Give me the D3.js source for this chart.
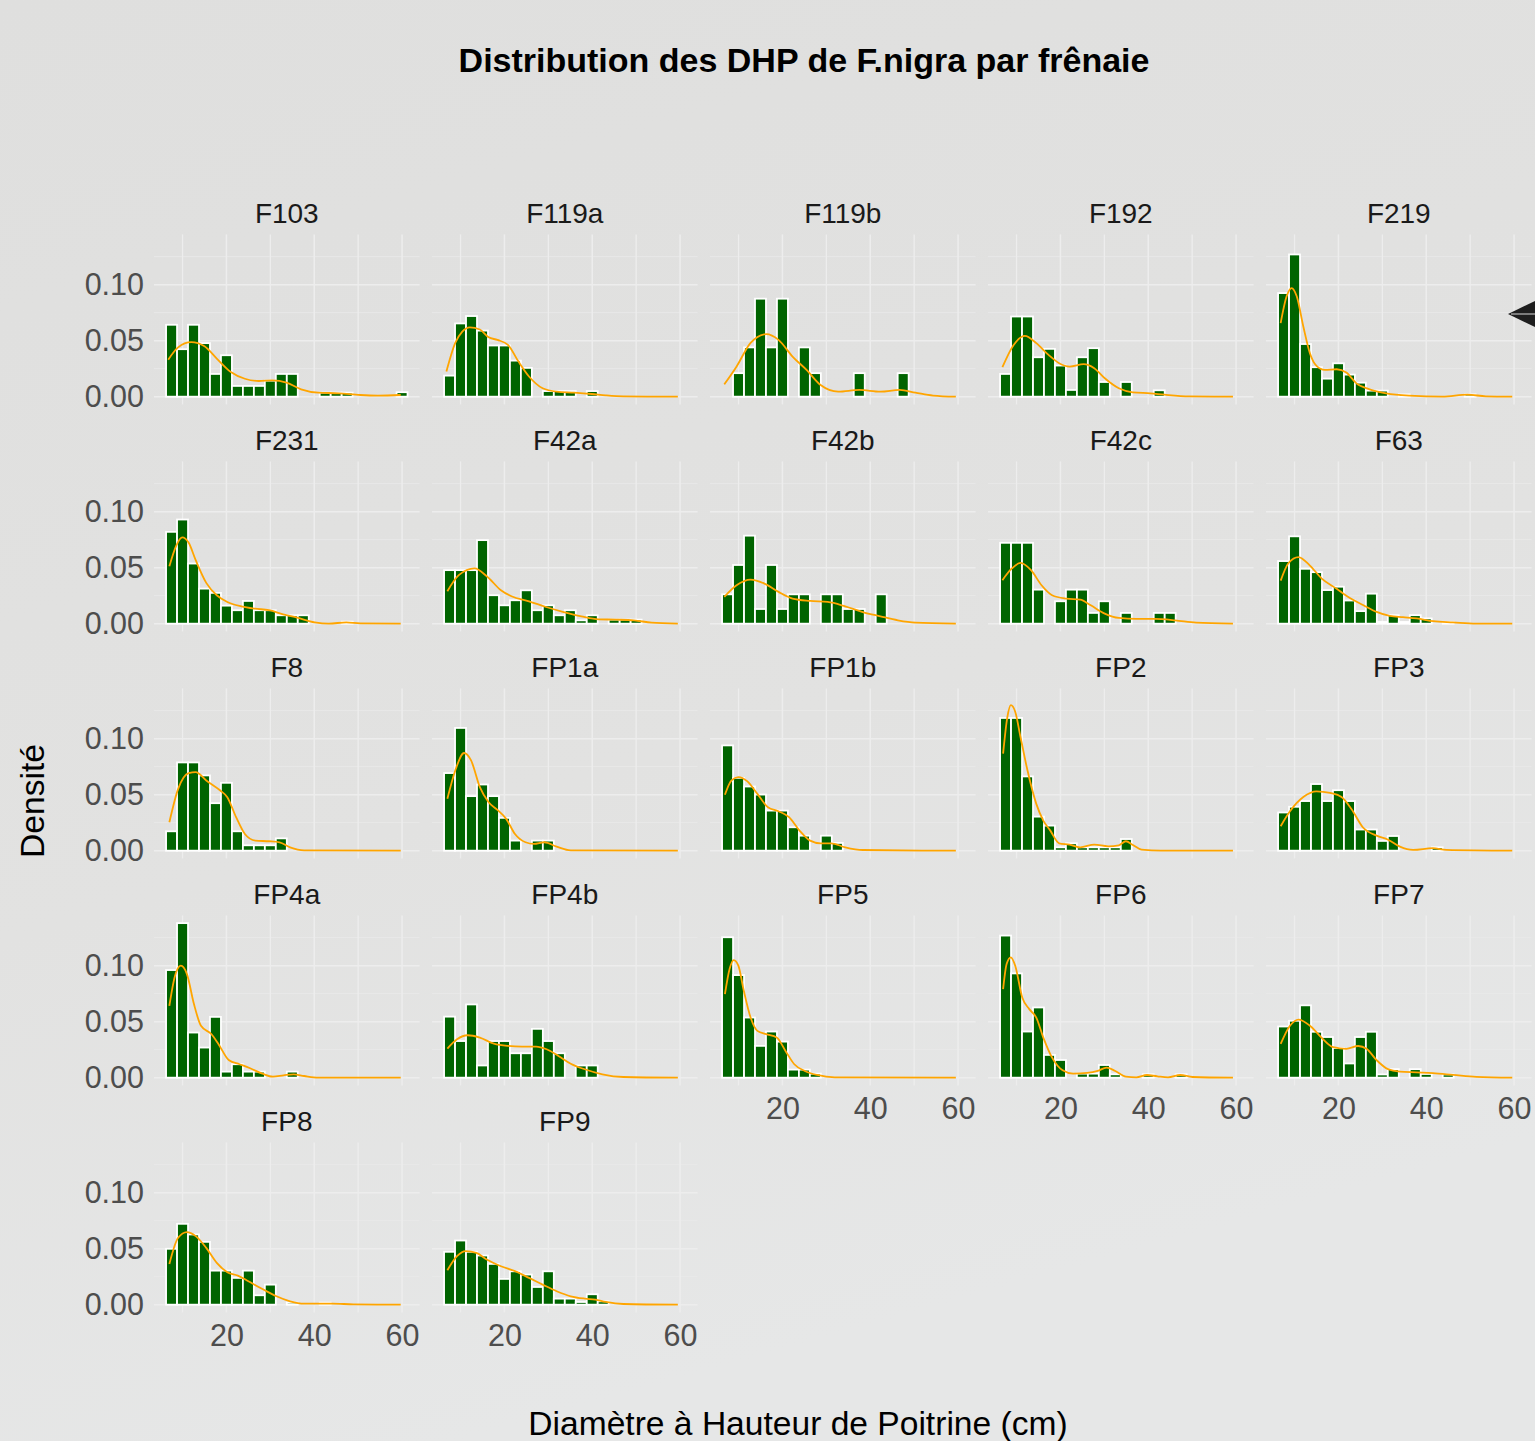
<!DOCTYPE html>
<html><head><meta charset="utf-8">
<script src="https://cdn.jsdelivr.net/npm/d3@7"></script>
<style>
body{margin:0;background:#e2e2e1;}
svg{display:block;}
text{font-family:"Liberation Sans",Arial,Helvetica,sans-serif;}
</style>
</head><body>
<svg id="chart" width="1535" height="1441"></svg>
<script>
// ---------------- DATA ----------------
const panels = ["F103","F119a","F119b","F192","F219","F231","F42a","F42b","F42c","F63",
  "F8","FP1a","FP1b","FP2","FP3","FP4a","FP4b","FP5","FP6","FP7","FP8","FP9"];
const binCenters = [7.5,10,12.5,15,17.5,20,22.5,25,27.5,30,32.5,35,37.5,40,42.5,45,47.5,50,52.5,55,57.5,60];
const binWidth = 2.5;
const xTicks = [20,40,60];
const xMinor = [10,30,50];
const yTicks = [0,0.05,0.10];
const yTickLabels = ["0.00","0.05","0.10"];
const yMinor = [0.025,0.075,0.125];
const titleText = "Distribution des DHP de F.nigra par frênaie";
const xTitle = "Diamètre à Hauteur de Poitrine (cm)";
const yTitle = "Densité";

// histogram densities per bin (one value per bin centre)
const histF103  = [0.0642,0.0424,0.0642,0.0478,0.0203,0.037,0.0096,0.0096,0.0096,0.0143,0.0203,0.0203,0,0,0.0036,0.0036,0.0036,0,0,0,0,0.004];
const histF119a = [0.0188,0.0654,0.072,0.059,0.0457,0.0457,0.0322,0.0257,0,0.005,0.005,0.005,0,0.005,0,0,0,0,0,0,0,0];
const histF119b = [0,0.021,0.044,0.0875,0.044,0.0875,0,0.044,0.021,0,0,0,0.021,0,0,0,0.021,0,0,0,0,0];
const histF192  = [0.0203,0.0716,0.0716,0.0352,0.0427,0.0278,0.006,0.0352,0.0433,0.0131,0,0.0131,0,0,0.0057,0,0,0,0,0,0,0];
const histF219  = [0.0925,0.127,0.047,0.0263,0.0161,0.0298,0.0197,0.0125,0.0054,0.0054,0,0.002,0,0,0,0,0,0.002,0,0,0,0];
const histF231  = [0.082,0.093,0.0537,0.0313,0.0275,0.0161,0.012,0.0203,0.012,0.012,0.0075,0.0075,0.0075,0,0,0,0.0018,0,0,0,0,0];
const histF42a  = [0.0478,0.0478,0.0478,0.0746,0.0254,0.0164,0.0209,0.0298,0.012,0.0164,0.0075,0.012,0.003,0.0075,0,0.0036,0.0036,0.0036,0,0,0,0];
const histF42b  = [0.0262,0.0524,0.0786,0.0131,0.0524,0.0131,0.0262,0.0262,0,0.0262,0.0262,0.0131,0.0131,0,0.0262,0,0,0,0,0,0,0];
const histF42c  = [0.0722,0.0722,0.0722,0.0304,0,0.02,0.0304,0.0304,0.0096,0.02,0,0.0096,0,0,0.0096,0.0096,0,0,0,0,0,0];
const histF63   = [0.0559,0.078,0.049,0.046,0.030,0.033,0.0207,0.0112,0.0268,0.0015,0.0076,0.0015,0.0076,0.0047,0,0.0015,0,0,0,0,0,0];
const histF8    = [0.0173,0.0788,0.0788,0.0672,0.0424,0.0606,0.0173,0.0048,0.0048,0.0048,0.011,0,0,0,0,0,0,0,0,0,0,0];
const histFP1a  = [0.0693,0.1096,0.0487,0.0591,0.0487,0.0293,0.009,0,0.009,0.009,0,0,0,0,0,0,0,0,0,0,0,0];
const histFP1b  = [0.094,0.065,0.0573,0.0501,0.0358,0.0358,0.0209,0.0134,0,0.0134,0.0069,0,0,0,0,0,0,0,0,0,0,0];
const histFP2   = [0.1185,0.1185,0.0663,0.0304,0.0224,0.003,0.0066,0.003,0.003,0.003,0.003,0.0104,0,0,0,0,0,0,0,0,0,0];
const histFP3   = [0.0341,0.0392,0.0443,0.0595,0.0443,0.054,0.0443,0.0189,0.0189,0.0087,0.0131,0,0,0,0.003,0,0,0,0,0,0,0];
const histFP4a  = [0.0961,0.138,0.0403,0.0269,0.0543,0.0054,0.012,0.0054,0.0054,0,0,0.0054,0,0,0,0,0,0,0,0,0,0];
const histFP4b  = [0.0545,0.0327,0.0654,0.0109,0.0327,0.0327,0.0218,0.0218,0.0436,0.0327,0.0218,0,0.0109,0.0109,0,0,0,0,0,0,0,0];
const histFP5   = [0.1254,0.0916,0.0537,0.0284,0.0412,0.0322,0.0072,0.0072,0.0036,0,0,0,0,0,0,0,0,0,0,0,0,0];
const histFP6   = [0.1269,0.0931,0.0412,0.0627,0.0203,0.0158,0,0.0036,0.0036,0.0113,0.003,0,0,0.003,0,0,0.003,0,0,0,0,0];
const histFP7   = [0.0457,0.0508,0.0646,0.041,0.0363,0.0265,0.0127,0.0363,0.041,0.0029,0.0076,0,0.0076,0.0033,0,0.0029,0,0,0,0,0,0];
const histFP8   = [0.0499,0.0722,0.0627,0.0561,0.0304,0.0304,0.0239,0.0304,0.0084,0.0179,0,0.0018,0,0,0.0018,0,0,0,0,0,0,0];
const histFP9   = [0.0472,0.0573,0.0472,0.0439,0.0364,0.023,0.0298,0.0269,0.0158,0.0298,0.0054,0.0054,0.0024,0.0093,0.003,0,0,0,0,0,0,0];

// kernel density curves: [diameter, density]
const densF103  = [[6.74,0.033],[8.98,0.044],[12.0,0.0487],[15.0,0.045],[17.8,0.034],[21.0,0.022],[24.2,0.016],[27.4,0.014],[30.5,0.0146],[33.7,0.0125],[37.0,0.0066],[40.9,0.0036],[45.7,0.003],[50.5,0.0015],[54.5,0.001],[59.7,0.0015]];
const densF119a = [[6.78,0.0224],[8.8,0.048],[10.4,0.058],[12.1,0.0618],[14.4,0.06],[16.4,0.053],[18.4,0.0507],[20.8,0.0463],[23.2,0.0313],[25.6,0.018],[28.7,0.0075],[31.9,0.0045],[35.9,0.0036],[39.9,0.0024],[43.1,0.0012],[47.1,0.0003],[59.5,0]];
const densF119b = [[6.76,0.011],[9.56,0.027],[12.75,0.048],[16.35,0.0558],[19.1,0.0507],[22.3,0.0358],[25.5,0.0239],[28.7,0.0104],[32.7,0.0045],[37.5,0.006],[42.3,0.0045],[46.7,0.006],[50.3,0.0036],[54.3,0.001],[59.5,0]];
const densF192  = [[6.78,0.0263],[9.3,0.046],[11.9,0.0543],[14.5,0.0478],[17.3,0.0373],[19.7,0.0299],[22.1,0.0269],[25.3,0.029],[27.7,0.0254],[30.1,0.0164],[33.3,0.0075],[36.5,0.0039],[40.5,0.003],[43.7,0.0018],[49.3,0.0003],[59.3,0]];
const densF219  = [[6.84,0.0657],[8.2,0.0896],[9.34,0.097],[10.5,0.0896],[12.0,0.0627],[13.5,0.0388],[15.0,0.0275],[16.9,0.0239],[19.6,0.0245],[21.8,0.0215],[24.1,0.0119],[27.1,0.0066],[30.9,0.003],[36.2,0.0009],[43.7,0],[49.4,0.0018],[53.6,0.0003],[59.6,0]];
const densF231  = [[7.0,0.0513],[8.6,0.070],[9.94,0.077],[11.4,0.0722],[13.0,0.0567],[15.4,0.0364],[17.8,0.0254],[20.2,0.0194],[23.4,0.0155],[26.5,0.0134],[29.7,0.012],[32.9,0.0084],[36.1,0.0054],[40.1,0.0012],[43.3,0],[47.3,0.0012],[50.5,0.0003],[59.7,0]];
const densF42a  = [[7.0,0.029],[9.6,0.0433],[13.2,0.0493],[15.97,0.0424],[19.2,0.0299],[21.6,0.0245],[25.6,0.02],[29.5,0.0149],[33.5,0.0104],[37.5,0.0066],[41.5,0.0039],[45.5,0.0036],[49.5,0.003],[53.5,0.0009],[59.5,0]];
const densF42b  = [[6.76,0.0239],[9.55,0.0343],[12.75,0.0394],[15.9,0.0358],[19.1,0.0284],[22.3,0.0224],[26.3,0.0203],[30.3,0.0194],[34.3,0.0155],[38.3,0.0104],[42.3,0.0066],[46.3,0.003],[50.3,0.0009],[59.5,0]];
const densF42c  = [[6.78,0.0388],[8.94,0.0493],[10.9,0.0543],[13.3,0.0478],[15.7,0.0343],[18.1,0.0254],[21.3,0.0224],[24.5,0.0215],[26.9,0.0164],[30.1,0.009],[33.3,0.0051],[37.3,0.0042],[41.3,0.0042],[46.1,0.003],[50.9,0.0009],[59.3,0]];
const densF63   = [[6.84,0.0384],[8.6,0.054],[10.9,0.0595],[13.5,0.0519],[16.2,0.0403],[19.6,0.0312],[22.6,0.0229],[25.6,0.0167],[28.7,0.0105],[31.7,0.0069],[34.7,0.0058],[37.8,0.0047],[41.6,0.0022],[46.1,0.0011],[51.4,0],[59.6,0]];
const densF8    = [[7.0,0.0254],[9.0,0.0552],[11.4,0.0693],[13.0,0.0701],[15.4,0.0627],[18.6,0.0537],[20.2,0.0478],[22.2,0.0299],[24.2,0.0149],[26.6,0.009],[29.7,0.0084],[32.1,0.0075],[34.5,0.003],[37.7,0.0003],[59.7,0]];
const densFP1a  = [[7.0,0.0463],[8.8,0.0716],[10.8,0.0872],[12.4,0.0806],[14.4,0.0567],[16.4,0.0433],[18.4,0.0364],[20.4,0.0284],[22.4,0.0149],[24.8,0.0075],[26.7,0.006],[29.1,0.0075],[31.9,0.0036],[35.1,0.0003],[59.5,0]];
const densFP1b  = [[6.9,0.0499],[8.4,0.0627],[9.96,0.0657],[11.96,0.0621],[14.3,0.0507],[16.7,0.0388],[19.1,0.0352],[21.5,0.0299],[23.9,0.0179],[26.3,0.009],[28.7,0.0066],[31.1,0.0066],[34.3,0.003],[38.3,0.0006],[59.5,0]];
const densFP2   = [[6.94,0.0866],[7.9,0.119],[8.7,0.1299],[9.7,0.124],[10.9,0.1015],[12.5,0.0716],[14.5,0.0418],[16.1,0.0269],[17.7,0.0179],[19.7,0.0066],[22.1,0.0054],[24.5,0.003],[27.7,0.0054],[30.9,0.0039],[33.3,0.0048],[34.9,0.0084],[36.5,0.0051],[38.5,0.0009],[42.9,0],[59.3,0]];
const densFP3   = [[6.84,0.0218],[8.96,0.0352],[12.0,0.0479],[15.0,0.053],[18.1,0.0515],[20.7,0.0479],[23.0,0.037],[25.6,0.0207],[28.7,0.0134],[31.3,0.0098],[34.0,0.0036],[37.0,0.0007],[41.5,0.0022],[44.6,0.0007],[59.6,0]];
const densFP4a  = [[7.0,0.0642],[8.2,0.0896],[9.6,0.1],[11.0,0.0925],[12.6,0.0657],[14.2,0.0463],[16.6,0.0388],[18.2,0.0299],[20.6,0.0155],[23.0,0.012],[25.4,0.0084],[28.2,0.0036],[30.6,0.0009],[33.0,0.0021],[35.3,0.003],[37.7,0.0015],[40.9,0],[59.7,0]];
const densFP4b  = [[7.0,0.026],[9.2,0.0343],[11.6,0.0379],[14.4,0.0358],[17.6,0.0304],[20.8,0.0284],[24.0,0.0278],[27.2,0.0278],[29.6,0.0254],[32.3,0.0194],[35.1,0.0125],[38.3,0.0075],[42.3,0.003],[47.1,0.0006],[59.5,0]];
const densFP5   = [[6.9,0.0746],[7.96,0.097],[8.9,0.105],[9.96,0.1],[11.2,0.0776],[12.75,0.0537],[14.3,0.0418],[16.3,0.0388],[18.7,0.0358],[20.7,0.0239],[22.7,0.012],[25.1,0.006],[27.9,0.0024],[31.9,0.0003],[59.5,0]];
const densFP6   = [[6.94,0.0791],[7.74,0.1015],[8.7,0.1075],[9.7,0.1],[11.3,0.0716],[12.9,0.0612],[14.5,0.0537],[16.1,0.0358],[18.1,0.0179],[20.5,0.0066],[22.9,0.0036],[26.1,0.0042],[28.5,0.006],[30.5,0.009],[32.5,0.006],[34.9,0.0009],[37.3,0.0003],[39.7,0.0024],[42.1,0.0012],[44.5,0.0003],[47.3,0.0024],[50.1,0.0006],[59.3,0]];
const densFP7   = [[6.84,0.0301],[8.96,0.0464],[10.9,0.0519],[13.5,0.0464],[16.2,0.0355],[18.8,0.0272],[21.8,0.0258],[24.5,0.0283],[26.4,0.0258],[28.7,0.0156],[31.3,0.0076],[34.0,0.0054],[37.8,0.0047],[41.5,0.004],[46.1,0.0025],[51.4,0.0007],[59.6,0]];
const densFP8   = [[7.0,0.0364],[9.0,0.0597],[11.0,0.0648],[13.0,0.0612],[15.4,0.0507],[17.8,0.0373],[20.2,0.029],[22.6,0.026],[25.0,0.0209],[28.2,0.014],[31.4,0.0075],[34.5,0.003],[37.7,0.0009],[40.9,0.0009],[44.1,0.0009],[48.9,0.0003],[59.7,0]];
const densFP9   = [[7.0,0.0307],[9.2,0.0433],[11.2,0.0478],[13.6,0.0463],[15.97,0.0403],[19.2,0.0343],[22.4,0.0299],[25.6,0.0239],[28.7,0.0179],[31.9,0.012],[35.1,0.0075],[38.3,0.0054],[40.7,0.0045],[43.1,0.0024],[47.1,0.0006],[59.5,0]];

const histByPanel = {F103:histF103,F119a:histF119a,F119b:histF119b,F192:histF192,F219:histF219,F231:histF231,
  F42a:histF42a,F42b:histF42b,F42c:histF42c,F63:histF63,F8:histF8,FP1a:histFP1a,FP1b:histFP1b,FP2:histFP2,FP3:histFP3,
  FP4a:histFP4a,FP4b:histFP4b,FP5:histFP5,FP6:histFP6,FP7:histFP7,FP8:histFP8,FP9:histFP9};
const densByPanel = {F103:densF103,F119a:densF119a,F119b:densF119b,F192:densF192,F219:densF219,F231:densF231,
  F42a:densF42a,F42b:densF42b,F42c:densF42c,F63:densF63,F8:densF8,FP1a:densFP1a,FP1b:densFP1b,FP2:densFP2,FP3:densFP3,
  FP4a:densFP4a,FP4b:densFP4b,FP5:densFP5,FP6:densFP6,FP7:densFP7,FP8:densFP8,FP9:densFP9};

// ---------------- LAYOUT ----------------
const W = 1535, H = 1441;
const nCols = 5;
const panelX0 = 154, colStep = 278, panelW = 265.6;
const panelY0 = 234.4, rowStep = 227, panelH = 170;
const barFill = "#006400", densColor = "#FFA500";
const gridMajor = "#ededed", gridMinor = "#e9e9e9";

const svg = d3.select("#chart");
const defs = svg.append("defs");
const grad = defs.append("linearGradient").attr("id","bg").attr("x1",0).attr("y1",0).attr("x2",0.3).attr("y2",1);
grad.append("stop").attr("offset","0%").attr("stop-color","#dfdfde");
grad.append("stop").attr("offset","60%").attr("stop-color","#e2e2e1");
grad.append("stop").attr("offset","100%").attr("stop-color","#e6e7e7");
svg.append("rect").attr("width",W).attr("height",H).attr("fill","url(#bg)");

const xLo = d3.min(binCenters) - binWidth/2, xHi = d3.max(binCenters) + binWidth/2;
const xPad = (xHi - xLo) * 0.05;
const x = d3.scaleLinear().domain([xLo - xPad, xHi + xPad]).range([0, panelW]);
const allMax = d3.max(panels, p => Math.max(d3.max(histByPanel[p]), d3.max(densByPanel[p], d => d[1])));
const yPad = allMax * 0.05;
const y = d3.scaleLinear().domain([-yPad, allMax + yPad]).range([panelH, 0]);

const line = d3.line().x(d => x(d[0])).y(d => y(d[1])).curve(d3.curveMonotoneX);

// last row index per column
const lastRow = {};
panels.forEach((p,i) => { const c = i % nCols, r = Math.floor(i / nCols); lastRow[c] = Math.max(lastRow[c] ?? -1, r); });

panels.forEach((p, i) => {
  const c = i % nCols, r = Math.floor(i / nCols);
  const g = svg.append("g").attr("transform", `translate(${panelX0 + c*colStep},${panelY0 + r*rowStep})`);

  // grid
  g.selectAll(".gym").data(yMinor).join("line").attr("x1",0).attr("x2",panelW)
    .attr("y1",d=>y(d)).attr("y2",d=>y(d)).attr("stroke",gridMinor).attr("stroke-width",0.9);
  g.selectAll(".gxm").data(xMinor).join("line").attr("y1",0).attr("y2",panelH)
    .attr("x1",d=>x(d)).attr("x2",d=>x(d)).attr("stroke",gridMajor).attr("stroke-width",1.3);
  g.selectAll(".gy").data(yTicks).join("line").attr("x1",0).attr("x2",panelW)
    .attr("y1",d=>y(d)).attr("y2",d=>y(d)).attr("stroke",gridMajor).attr("stroke-width",1.5);
  g.selectAll(".gx").data(xTicks).join("line").attr("y1",0).attr("y2",panelH)
    .attr("x1",d=>x(d)).attr("x2",d=>x(d)).attr("stroke",gridMajor).attr("stroke-width",1.5);

  // bars
  const hist = histByPanel[p];
  g.selectAll("rect.bar").data(binCenters.map((b,k)=>({b, v:hist[k]}))).join("rect")
    .attr("class","bar")
    .attr("x", d => x(d.b - binWidth/2))
    .attr("width", d => x(d.b + binWidth/2) - x(d.b - binWidth/2))
    .attr("y", d => y(d.v))
    .attr("height", d => y(0) - y(d.v))
    .attr("fill", barFill).attr("stroke","#ffffff").attr("stroke-width",1.8);

  // density
  g.append("path").datum(densByPanel[p]).attr("d", line)
    .attr("fill","none").attr("stroke",densColor).attr("stroke-width",1.8);

  // strip
  g.append("text").attr("x", panelW/2).attr("y", -11.5).attr("text-anchor","middle")
    .attr("font-size", 28).attr("fill","#1a1a1a").text(p);

  // axes
  if (c === 0) {
    const ax = g.append("g").call(d3.axisLeft(y).tickValues(yTicks).tickFormat((d,k)=>yTickLabels[k]).tickSize(0).tickPadding(10));
    ax.select(".domain").remove();
    ax.selectAll("text").attr("font-size",30.5).attr("fill","#4d4d4d").attr("font-family",null);
  }
  if (r === lastRow[c]) {
    const ax = g.append("g").attr("transform",`translate(0,${panelH})`)
      .call(d3.axisBottom(x).tickValues(xTicks).tickSize(0).tickPadding(12));
    ax.select(".domain").remove();
    ax.selectAll("text").attr("font-size",30.5).attr("fill","#4d4d4d").attr("font-family",null);
  }
});

// titles
svg.append("text").attr("x",804).attr("y",72).attr("text-anchor","middle")
  .attr("font-size",34).attr("font-weight","bold").attr("fill","#000").text(titleText);
svg.append("text").attr("x",798).attr("y",1435).attr("text-anchor","middle")
  .attr("font-size",33.6).attr("fill","#000").text(xTitle);
svg.append("text").attr("transform","translate(44,801) rotate(-90)").attr("text-anchor","middle")
  .attr("font-size",33.6).attr("fill","#000").text(yTitle);

// dark pointer shape at right edge (as in the reference picture)
svg.append("path").attr("d","M1508,314 L1535,301 L1535,327 Z").attr("fill","#1e1e1e");
svg.append("line").attr("x1",1511).attr("x2",1535).attr("y1",314).attr("y2",314).attr("stroke","#d8d8d8").attr("stroke-width",1);
</script>
</body></html>
